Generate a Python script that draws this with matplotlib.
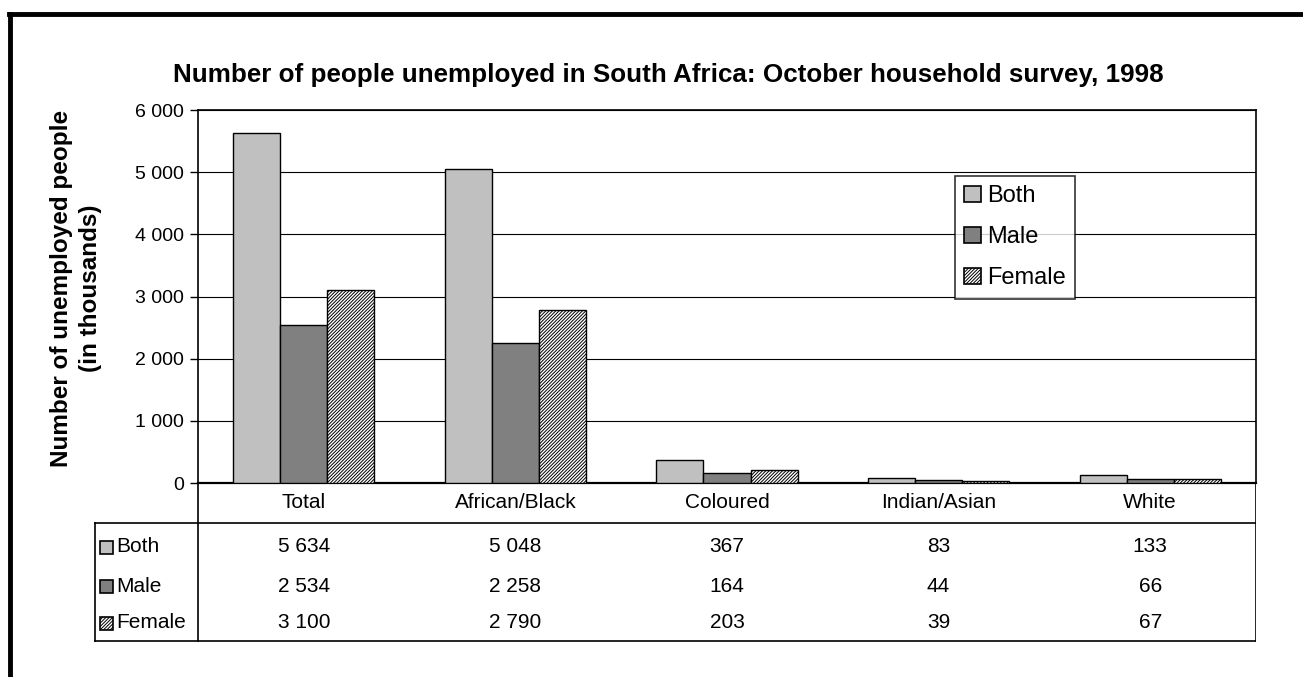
import matplotlib
matplotlib.use("Agg")
import matplotlib.pyplot as plt
from matplotlib.patches import Patch, Rectangle
from matplotlib.lines import Line2D
import numpy as np

plt.rcParams['font.family'] = ['Liberation Sans', 'DejaVu Sans']
plt.rcParams['hatch.linewidth'] = 0.7
plt.rcParams['hatch.color'] = '#222222'

categories = ["Total", "African/Black", "Coloured", "Indian/Asian", "White"]
series_names = ["Both", "Male", "Female"]
both = [5634, 5048, 367, 83, 133]
male = [2534, 2258, 164, 44, 66]
female = [3100, 2790, 203, 39, 67]
yticks = [0, 1000, 2000, 3000, 4000, 5000, 6000]

title = "Number of people unemployed in South Africa: October household survey, 1998"
ylabel = "Number of unemployed people\n(in thousands)"

W, H = 1303, 677
fig = plt.figure(figsize=(W / 100, H / 100), dpi=100)

def fx(px):
    return px / W

def fy(py):
    return 1 - py / H

styles = [
    dict(facecolor="#C0C0C0", hatch=None),
    dict(facecolor="#808080", hatch=None),
    dict(facecolor="white", hatch="//////////"),
]

# main plot area
L, R, T, B = 198, 1256, 110, 483
ax = fig.add_axes([fx(L), fy(B), fx(R) - fx(L), fy(T) - fy(B)])
x = np.arange(len(categories))
bw = 1 / 4.5
data = [both, male, female]
for i, (vals, st) in enumerate(zip(data, styles)):
    ax.bar(x + (i - 1) * bw, vals, width=bw, facecolor=st["facecolor"],
           edgecolor="black", linewidth=1.0, hatch=st["hatch"], zorder=3)
ax.set_xlim(-0.5, len(categories) - 0.5)
ax.set_ylim(0, 6000)
ax.set_yticks(yticks)
ax.set_yticklabels([f"{v:,}".replace(",", " ") for v in yticks], fontsize=14)
ax.set_xticks([])
ax.yaxis.grid(True, color="black", linewidth=0.8, zorder=0)
ax.tick_params(axis="y", length=6, width=1, direction="out", pad=4)
for s in ax.spines.values():
    s.set_color("black")
    s.set_linewidth(1.2)
ax.spines["bottom"].set_linewidth(1.6)

# legend
handles = [Patch(facecolor=st["facecolor"], edgecolor="black", hatch=st["hatch"], linewidth=1.2)
           for st in styles]
leg = ax.legend(handles, series_names, loc="upper left",
                bbox_to_anchor=((955 - L) / (R - L), 1 - (176 - T) / (B - T)),
                fontsize=17, frameon=True, fancybox=False, handlelength=0.7,
                handleheight=0.7, handletextpad=0.25, borderpad=0.4,
                labelspacing=0.8, borderaxespad=0)
leg.get_frame().set_edgecolor("black")
leg.get_frame().set_linewidth(1.2)
leg.set_zorder(5)

# data table area
TL, TB = 94, 642
tax = fig.add_axes([fx(TL), fy(TB), fx(R) - fx(TL), fy(B) - fy(TB)])
unit = (R - L) / len(categories)
xl = -0.5 - (L - TL) / unit
xr = len(categories) - 0.5
tax.set_xlim(xl, xr)
tax.set_ylim(TB - B, 0)
tax.axis("off")
lw = 1.2
tax.add_line(Line2D([-0.5, -0.5], [0, TB - B], color="black", lw=lw))
tax.add_line(Line2D([xr - 0.002, xr - 0.002], [0, TB - B], color="black", lw=lw))
tax.add_line(Line2D([xl, xr], [523 - B, 523 - B], color="black", lw=lw))
tax.add_line(Line2D([xl, xr], [TB - B - 0.6, TB - B - 0.6], color="black", lw=lw))
tax.add_line(Line2D([xl + 0.003, xl + 0.003], [523 - B, TB - B], color="black", lw=lw))

for i, c in enumerate(categories):
    tax.text(i, 503 - B, c, ha="center", va="center", fontsize=15)
row_y = [547 - B, 586 - B, 623 - B]
for r, (name, vals, st) in enumerate(zip(series_names, data, styles)):
    for i, v in enumerate(vals):
        tax.text(i, row_y[r], f"{v:,}".replace(",", " "), ha="center", va="center", fontsize=15)
    sq = 13 / unit
    tax.add_patch(Rectangle((xl + 6 / unit, row_y[r] - 6), sq, 13,
                            facecolor=st["facecolor"], edgecolor="black",
                            hatch=st["hatch"], linewidth=1.2))
    tax.text(xl + 22 / unit, row_y[r], name, ha="left", va="center", fontsize=15)

# title and y label
fig.text(fx(668), fy(75), title, ha="center", va="center", fontsize=18.7, fontweight="bold")
fig.text(fx(76), fy(288), ylabel, ha="center", va="center", fontsize=17.5, fontweight="bold",
         rotation=90, multialignment="center", linespacing=1.35)

# outer border (only top and left visible)
fig.add_artist(Line2D([fx(10), fx(10)], [fy(14), 0], color="black", lw=3.5, transform=fig.transFigure))
fig.add_artist(Line2D([fx(8.5), 1], [fy(14), fy(14)], color="black", lw=3.5, transform=fig.transFigure))

fig.savefig("out.png", dpi=100)
